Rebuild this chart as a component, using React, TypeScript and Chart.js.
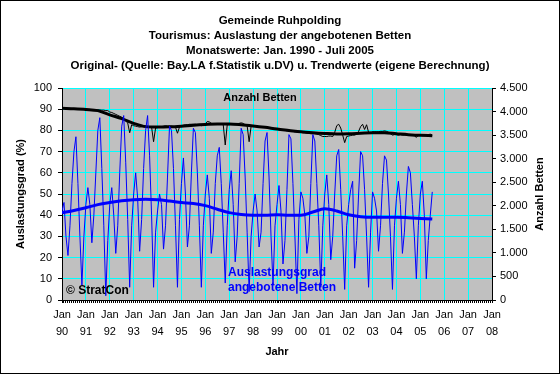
import React, { useEffect, useRef } from 'react';
import { Chart, registerables } from 'chart.js';
Chart.register(...registerables);

const titleLines = [
  'Gemeinde Ruhpolding',
  'Tourismus: Auslastung der angebotenen Betten',
  'Monatswerte: Jan. 1990 - Juli 2005',
  'Original- (Quelle: Bay.LA f.Statistik u.DV) u. Trendwerte (eigene Berechnung)',
];
const yearLabels = ['90','91','92','93','94','95','96','97','98','99','00','01','02','03','04','05','06','07','08'];

// Auslastungsgrad (%) monthly, Jan 1990 - Jul 2005
const auslastung = [
  42,46,30,21,35,55,70,77,55,30,7,30,
  45,53,45,27,40,60,80,86,62,35,2,28,
  45,53,40,22,35,60,82,87,65,38,6,35,
  50,60,48,23,38,62,80,87,68,40,6,32,
  42,50,45,24,35,58,82,80,62,35,6,38,
  55,67,50,25,35,60,81,79,60,35,6,35,
  50,59,48,22,32,55,68,72,55,32,8,35,
  52,61,45,18,30,55,81,78,58,32,4,30,
  42,50,42,25,32,55,75,79,58,30,7,35,
  45,54,42,17,28,52,78,76,55,30,3,38,
  51,48,40,22,30,55,78,75,55,35,6,35,
  50,59,45,19,30,50,68,71,52,30,5,35,
  45,52,56,15,28,50,70,68,52,30,6,32,
  51,48,42,23,35,55,68,66,50,30,5,35,
  48,56,45,22,32,50,63,60,45,30,10,35,
  50,56,40,10,28,40,51,
];

// Anzahl Betten monthly
const betten = [
  4080,4080,4075,4070,4070,4065,4065,4060,4060,4055,4050,4050,
  4050,4045,4045,4040,4040,4040,4035,4035,4030,4030,4020,4020,
  3990,3980,3960,3940,3920,3900,3880,3850,3800,3760,3550,3720,
  3700,3690,3680,3670,3680,3690,3700,3690,3680,3670,3360,3650,
  3660,3670,3680,3690,3700,3690,3690,3690,3680,3670,3540,3670,
  3700,3710,3720,3720,3730,3730,3730,3730,3720,3720,3700,3720,
  3740,3790,3780,3750,3740,3730,3730,3730,3730,3720,3290,3720,
  3720,3730,3730,3730,3740,3750,3760,3750,3720,3700,3360,3690,
  3690,3690,3690,3680,3680,3670,3670,3660,3660,3650,3640,3640,
  3630,3620,3610,3600,3600,3590,3590,3580,3580,3570,3570,3560,
  3560,3550,3550,3540,3540,3530,3530,3530,3520,3510,3490,3470,
  3470,3470,3480,3480,3470,3560,3700,3730,3650,3500,3340,3470,
  3480,3490,3500,3500,3520,3580,3680,3730,3620,3720,3560,3540,
  3570,3570,3570,3570,3580,3580,3590,3580,3560,3530,3500,3510,
  3510,3500,3510,3500,3500,3500,3500,3500,3500,3490,3450,3500,
  3500,3490,3490,3500,3510,3520,3500,
];

// Trend values (half-yearly, months since Jan 1990)
const trendMonths = [0,6,12,18,24,30,36,42,48,54,60,66,72,78,84,90,96,102,108,114,120,126,132,138,144,150,156,162,168,174,180,186];
const auslastungTrend = [41.2,42.2,43.5,45,46,46.8,47.3,47.5,47.3,46.7,46,45.5,44.5,42.8,41.2,40.3,40,40,40.2,40,40,41.5,43,42,40.2,39.3,39,39,39,38.8,38.5,38.2];
const bettenTrend = [4070,4060,4045,4020,3930,3850,3750,3680,3670,3675,3690,3710,3725,3735,3735,3720,3695,3665,3630,3600,3570,3550,3535,3525,3530,3540,3550,3550,3530,3510,3495,3488];

const FONT = '"Liberation Sans", Arial, sans-serif';

function fmtThousands(v: number): string {
  const s = String(Math.round(v));
  return s.replace(/\B(?=(\d{3})+(?!\d))/g, '.');
}

const decorPlugin = {
  id: 'decor',
  beforeDraw(chart: any) {
    const { ctx, chartArea: a, width, height } = chart;
    ctx.save();
    ctx.fillStyle = '#ffffff';
    ctx.fillRect(0, 0, width, height);
    ctx.strokeStyle = '#000000';
    ctx.lineWidth = 1;
    ctx.strokeRect(0.5, 0.5, width - 1, height - 1);
    ctx.fillStyle = '#C0C0C0';
    ctx.fillRect(a.left, a.top, a.right - a.left, a.bottom - a.top);
    ctx.strokeStyle = '#808080';
    ctx.beginPath();
    ctx.moveTo(a.left, a.top + 0.5);
    ctx.lineTo(a.right, a.top + 0.5);
    ctx.stroke();
    ctx.restore();
  },
  afterDraw(chart: any) {
    const { ctx } = chart;
    ctx.save();
    ctx.fillStyle = '#000000';
    ctx.textAlign = 'center';
    ctx.textBaseline = 'middle';
    ctx.font = `bold 11.5px ${FONT}`;
    const ys = [21, 36, 51, 66];
    titleLines.forEach((t, i) => ctx.fillText(t, 280, ys[i]));
    // axis titles
    ctx.font = `bold 11px ${FONT}`;
    ctx.save();
    ctx.translate(21, 194);
    ctx.rotate(-Math.PI / 2);
    ctx.fillText('Auslastungsgrad (%)', 0, 0);
    ctx.restore();
    ctx.save();
    ctx.translate(540, 194);
    ctx.rotate(-Math.PI / 2);
    ctx.fillText('Anzahl Betten', 0, 0);
    ctx.restore();
    ctx.fillText('Jahr', 277, 352);
    // in-plot labels
    ctx.fillText('Anzahl Betten', 260, 98);
    ctx.textAlign = 'left';
    ctx.fillStyle = '#0000FF';
    ctx.font = `bold 12px ${FONT}`;
    ctx.fillText('Auslastungsgrad', 228, 273);
    ctx.fillText('angebotene Betten', 228, 288);
    ctx.fillStyle = '#000000';
    ctx.fillText('\u00A9 StratCon', 66, 291);
    ctx.restore();
  },
};

export default function App() {
  const ref = useRef<HTMLCanvasElement | null>(null);
  useEffect(() => {
    if (!ref.current) return;
    const blue = auslastung.map((v, i) => ({ x: i, y: v }));
    const black = betten.map((v, i) => ({ x: i, y: v }));
    const blueT = trendMonths.map((m, i) => ({ x: m, y: auslastungTrend[i] }));
    const blackT = trendMonths.map((m, i) => ({ x: m, y: bettenTrend[i] }));
    const tickFont = { family: FONT, size: 11 };
    const chart = new Chart(ref.current, {
      type: 'line',
      data: {
        datasets: [
          { data: blue, yAxisID: 'y', borderColor: '#0000FF', borderWidth: 1, pointRadius: 0, tension: 0 },
          { data: blueT, yAxisID: 'y', borderColor: '#0000FF', borderWidth: 3, pointRadius: 0, cubicInterpolationMode: 'monotone' },
          { data: black, yAxisID: 'y2', borderColor: '#000000', borderWidth: 1, pointRadius: 0, tension: 0 },
          { data: blackT, yAxisID: 'y2', borderColor: '#000000', borderWidth: 3, pointRadius: 0, cubicInterpolationMode: 'monotone' },
        ],
      } as any,
      options: {
        animation: false,
        responsive: false,
        layout: { padding: { top: 88, left: 0, right: 0, bottom: 0 } },
        plugins: { legend: { display: false }, tooltip: { enabled: false }, title: { display: false } },
        scales: {
          x: {
            type: 'linear',
            min: 0,
            max: 216,
            afterFit(s: any) { s.height = 74; },
            ticks: {
              stepSize: 1,
              autoSkip: false,
              maxRotation: 0,
              minRotation: 0,
              padding: 4,
              color: '#000000',
              font: { ...tickFont, lineHeight: 1.5 },
              callback: (v: any) => (v % 12 === 0 ? ['Jan', yearLabels[v / 12]] : ''),
            },
            grid: {
              color: (c: any) => (c.tick && c.tick.value % 12 === 0 ? '#00FFFF' : 'rgba(0,0,0,0)'),
              tickColor: '#000000',
              tickLength: 3,
              lineWidth: 1,
            },
            border: { display: true, color: '#000000' },
          },
          y: {
            type: 'linear',
            position: 'left',
            min: 0,
            max: 100,
            afterFit(s: any) { s.width = 62; },
            ticks: {
              stepSize: 5,
              padding: 6,
              color: '#000000',
              font: tickFont,
              callback: (v: any) => (v % 10 === 0 ? String(v) : ''),
            },
            grid: {
              color: (c: any) => (c.tick && c.tick.value % 10 === 0 && c.tick.value > 0 ? '#00FFFF' : 'rgba(0,0,0,0)'),
              tickColor: '#000000',
              tickLength: 4,
            },
            border: { display: true, color: '#000000' },
          },
          y2: {
            type: 'linear',
            position: 'right',
            min: 0,
            max: 4500,
            afterFit(s: any) { s.width = 68; },
            ticks: {
              stepSize: 250,
              padding: 4,
              color: '#000000',
              font: tickFont,
              callback: (v: any) => (v % 500 === 0 ? fmtThousands(v) : ''),
            },
            grid: { drawOnChartArea: false, tickColor: '#000000', tickLength: 4 },
            border: { display: true, color: '#000000' },
          },
        },
      } as any,
      plugins: [decorPlugin],
    });
    return () => chart.destroy();
  }, []);
  return (
    <div style={{ position: 'absolute', left: 0, top: 0, width: 560, height: 374 }}>
      <canvas ref={ref} width={560} height={374} style={{ display: 'block', width: 560, height: 374 }} />
    </div>
  );
}
